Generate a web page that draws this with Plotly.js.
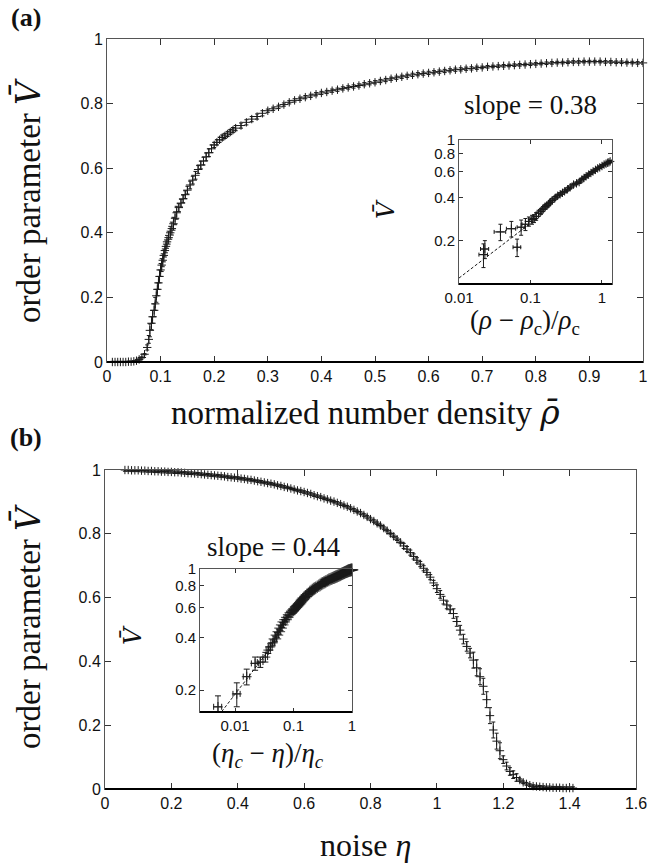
<!DOCTYPE html>
<html><head><meta charset="utf-8">
<script src="https://cdn.plot.ly/plotly-3.0.1.min.js"></script>
<style>html,body{margin:0;padding:0;background:#fff}#chart{width:649px;height:865px}</style>
</head><body><div id="chart"></div>
<script>
// ---- Panel (a): order parameter vs normalized density ----
const aX = [0.010,0.015,0.020,0.025,0.030,0.035,0.040,0.045,0.050,0.055,0.060,0.065,0.070,0.075,0.078,0.080,0.083,0.085,0.088,0.090,0.092,0.094,0.096,0.098,0.100,0.102,0.104,0.106,0.108,0.110,0.112,0.115,0.118,0.121,0.124,0.127,0.130,0.134,0.138,0.142,0.146,0.150,0.155,0.160,0.165,0.170,0.175,0.180,0.185,0.190,0.195,0.200,0.205,0.210,0.215,0.220,0.225,0.230,0.235,0.240,0.250,0.260,0.270,0.280,0.290,0.300,0.310,0.320,0.330,0.340,0.350,0.360,0.370,0.380,0.390,
0.40,0.41,0.42,0.43,0.44,0.45,0.46,0.47,0.48,0.49,0.50,0.51,0.52,0.53,0.54,0.55,0.56,0.57,0.58,0.59,0.60,0.61,0.62,0.63,0.64,0.65,0.66,0.67,0.68,0.69,0.70,0.71,0.72,0.73,0.74,0.75,0.76,0.77,0.78,0.79,0.80,0.81,0.82,0.83,0.84,0.85,0.86,0.87,0.88,0.89,0.90,0.91,0.92,0.93,0.94,0.95,0.96,0.97,0.98,0.99,1.00];
const aY = [0,0,0,0,0,0,0.001,0.001,0.002,0.004,0.008,0.014,0.024,0.045,0.070,0.098,0.120,0.140,0.160,0.180,0.205,0.225,0.245,0.265,0.285,0.300,0.315,0.330,0.345,0.358,0.372,0.385,0.400,0.413,0.428,0.445,0.462,0.478,0.492,0.505,0.518,0.532,0.548,0.563,0.578,0.596,0.610,0.622,0.635,0.648,0.660,0.672,0.680,0.688,0.695,0.700,0.706,0.712,0.718,0.724,0.732,0.742,0.752,0.760,0.770,0.778,0.784,0.790,0.797,0.804,0.810,0.815,0.820,0.824,0.829,
0.833,0.836,0.840,0.843,0.847,0.850,0.853,0.856,0.860,0.863,0.866,0.870,0.873,0.877,0.880,0.883,0.886,0.889,0.891,0.893,0.895,0.897,0.899,0.901,0.903,0.905,0.906,0.908,0.909,0.911,0.912,0.914,0.915,0.916,0.917,0.918,0.919,0.920,0.921,0.922,0.923,0.924,0.925,0.926,0.927,0.927,0.928,0.929,0.929,0.930,0.930,0.930,0.930,0.929,0.929,0.928,0.928,0.927,0.927,0.926,0.926];
const aErr = [0.002,0.002,0.002,0.002,0.002,0.002,0.002,0.002,0.002,0.002,0.002,0.002,0.002,0.008,0.012,
0.02,0.02,0.02,0.02,0.02,0.02,0.02,0.02,0.02,0.02,0.02,0.02,0.02,0.02,0.02,0.02,0.02,0.02,0.02,0.02,0.02,0.02,
0.012,0.012,0.012,0.012,0.012,0.012,0.012,0.012,0.012,0.012,0.012,0.012,0.012,0.012,
0.008,0.008,0.008,0.008,0.008,0.008,0.008,0.008,0.008,0.008,0.008,0.008,0.008,0.008,
0.005,0.005,0.005,0.005,0.005,0.005,0.005,0.005,0.005,0.005,
0.005,0.005,0.005,0.005,0.005,0.005,0.005,0.005,0.005,0.005,0.005,0.005,0.005,0.005,0.005,0.005,0.005,0.005,0.005,0.005,
0.005,0.005,0.005,0.005,0.005,0.005,0.005,0.005,0.005,0.005,0.004,0.004,0.004,0.004,0.004,0.004,0.004,0.004,0.004,0.004,
0.004,0.004,0.004,0.004,0.004,0.004,0.004,0.004,0.004,0.004,0.004,0.004,0.004,0.004,0.004,0.004,0.004,0.004,0.004,0.004,0.004];

// ---- Inset (a): log-log ----
const iaX = [0.022,0.023,0.038,0.054,0.065,0.074,0.085,0.095,0.105,0.112,0.12,0.13,0.14,0.15,0.16,0.17,0.18,0.19,0.2,0.22,0.24,0.26,0.28,0.3,0.33,0.36,0.4,0.44,0.48,0.52,0.56,0.6,0.65,0.7,0.75,0.81,0.87,0.93,1.0,1.07,1.14,1.2,1.25,1.3];
const iaY = [0.16,0.175,0.23,0.242,0.18,0.248,0.26,0.272,0.28,0.285,0.295,0.31,0.32,0.33,0.345,0.35,0.36,0.37,0.38,0.395,0.41,0.42,0.43,0.44,0.455,0.47,0.49,0.5,0.51,0.53,0.545,0.56,0.575,0.59,0.605,0.62,0.635,0.645,0.66,0.675,0.685,0.695,0.70,0.71];
const iaEy = [0.03,0.025,0.03,0.03,0.025,0.03,0.025,0.02,0.02,0.018,0.018,0.015,0.015,0.012,0.012,0.012,0.01,0.01,0.01,0.01,0.01,0.01,0.01,0.01,0.01,0.01,0.01,0.01,0.01,0.01,0.01,0.01,0.01,0.01,0.01,0.01,0.01,0.01,0.01,0.01,0.01,0.01,0.01,0.01];
const iaEx = [0.003,0.003,0.007,0.008,0.008,0.009,0.009,0.01,0.01,0.01,0.01,0.01,0.01,0.01,0.012,0.012,0.012,0.012,0.015,0.015,0.015,0.015,0.015,0.02,0.02,0.02,0.02,0.02,0.02,0.03,0.03,0.03,0.03,0.03,0.03,0.04,0.04,0.04,0.05,0.05,0.05,0.05,0.05,0.05];
const fitAx = [0.01, 0.15];
const fitAy = [0.11, 0.308];

// ---- Panel (b): order parameter vs noise ----
const bX = [0.06,0.07,0.08,0.09,0.10,0.11,0.12,0.13,0.14,0.15,0.16,0.17,0.18,0.19,0.20,0.21,0.22,0.23,0.24,0.25,0.26,0.27,0.28,0.29,0.30,0.31,0.32,0.33,0.34,0.35,0.36,0.37,0.38,0.39,0.40,0.41,0.42,0.43,0.44,0.45,0.46,0.47,0.48,0.49,0.50,0.51,0.52,0.53,0.54,0.55,0.56,0.57,0.58,0.59,0.60,0.61,0.62,0.63,0.64,0.65,0.66,0.67,0.68,0.69,0.70,0.71,0.72,0.73,0.74,0.75,0.76,0.77,0.78,0.79,0.80,0.81,0.82,0.83,0.84,0.85,0.86,0.87,0.88,0.89,
0.90,0.91,0.92,0.93,0.94,0.95,0.96,0.97,0.98,0.99,1.00,1.01,1.02,1.03,1.04,1.05,1.06,1.07,1.08,1.09,1.10,1.11,1.12,1.13,1.14,1.15,1.16,1.17,1.18,1.19,1.20,1.21,1.22,1.23,1.24,1.25,1.26,1.27,1.28,1.29,1.30,1.31,1.32,1.33,1.34,1.35,1.36,1.37,1.38,1.39,1.40,1.41];
const bY = [1.000,1.000,0.999,0.999,0.999,0.998,0.998,0.997,0.997,0.996,0.996,0.995,0.995,0.994,0.994,0.993,0.993,0.992,0.991,0.990,0.990,0.989,0.988,0.987,0.986,0.985,0.984,0.983,0.982,0.981,0.980,0.978,0.977,0.976,0.975,0.973,0.972,0.970,0.969,0.967,0.965,0.963,0.961,0.959,0.957,0.955,0.952,0.950,0.947,0.945,0.942,0.939,0.936,0.934,0.931,0.928,0.925,0.921,0.918,0.915,0.911,0.908,0.904,0.901,0.897,0.893,0.889,0.885,0.880,0.875,0.870,0.865,0.859,0.853,0.846,0.840,0.833,0.826,0.818,0.810,0.801,0.792,0.783,0.773,
0.762,0.752,0.741,0.729,0.717,0.705,0.692,0.679,0.664,0.646,0.628,0.610,0.592,0.577,0.562,0.550,0.525,0.498,0.470,0.447,0.426,0.404,0.380,0.352,0.322,0.280,0.230,0.185,0.150,0.120,0.092,0.072,0.055,0.045,0.036,0.028,0.021,0.016,0.012,0.009,0.008,0.007,0.006,0.005,0.005,0.004,0.004,0.004,0.003,0.003,0.003,0.003];
const bErr = [0.004,0.004,0.004,0.004,0.004,0.004,0.004,0.004,0.004,0.004,0.004,0.004,0.004,0.004,0.004,0.004,0.004,0.004,0.004,0.004,0.004,0.004,0.004,0.004,0.004,0.004,0.004,0.004,0.004,0.004,0.004,0.004,0.004,0.004,0.004,0.004,0.004,0.004,0.004,0.004,0.004,0.004,
0.004,0.004,0.004,0.004,0.004,0.004,0.004,0.004,0.004,0.004,0.004,0.004,0.004,0.004,0.004,0.004,0.004,0.004,0.004,0.004,0.004,0.004,0.004,0.004,0.004,0.004,0.004,0.004,0.004,0.004,0.004,0.004,0.004,0.004,0.004,0.004,0.004,0.004,0.004,0.004,0.004,0.004,
0.008,0.008,0.008,0.008,0.008,0.008,0.008,0.008,0.008,0.008,
0.012,0.012,0.012,0.012,0.012,
0.015,0.015,0.015,0.015,0.015,0.015,
0.025,0.025,0.025,0.025,0.025,0.025,0.025,0.025,0.025,
0.012,0.012,0.012,0.012,0.012,
0.004,0.004,0.004,0.004,0.004,0.004,0.004,0.004,0.004,0.004,0.004,0.004,0.004,0.004,0.004,0.004,0.004];

// ---- Inset (b): log-log ----
const ibX = [0.0051,0.0107,0.0158,0.022,0.027,0.033,0.037,0.040,0.044,0.048,0.052,0.056,0.06,0.064,0.068,0.073,0.078,0.084,0.09,0.095,0.1,0.105,0.11,0.115,0.12,0.125,0.13,0.135,0.14,0.145,0.15,0.16,0.17,0.18,0.19,0.2,0.21,0.22,0.23,0.24,0.255,0.27,0.285,0.3,0.315,0.33,0.345,0.36,0.38,0.4,0.42,0.44,0.46,0.48,0.5,0.52,0.54,0.56,0.58,0.6,0.62,0.64,0.66,0.68,0.7,0.72,0.74,0.76,0.78,0.8,0.82,0.84,0.86,0.88,0.9,0.92,0.94,0.96,0.98,1.0];
const ibY = [0.16,0.19,0.239,0.285,0.29,0.31,0.34,0.355,0.375,0.395,0.415,0.435,0.455,0.475,0.495,0.51,0.525,0.545,0.56,0.57,0.58,0.59,0.6,0.61,0.62,0.63,0.64,0.65,0.66,0.67,0.68,0.695,0.71,0.72,0.735,0.745,0.755,0.765,0.772,0.78,0.79,0.80,0.81,0.82,0.828,0.835,0.842,0.85,0.858,0.865,0.872,0.878,0.884,0.89,0.895,0.9,0.905,0.91,0.915,0.92,0.925,0.93,0.935,0.94,0.945,0.949,0.953,0.957,0.961,0.965,0.969,0.972,0.975,0.978,0.98,0.983,0.985,0.987,0.989,0.99];
const ibEy = [0.025,0.03,0.025,0.025,0.02,0.02,
0.015,0.015,0.015,0.015,0.015,0.015,0.015,0.015,0.015,0.015,0.015,0.015,0.015,0.015,
0.025,0.025,0.025,0.025,0.025,0.025,0.025,0.025,0.025,0.025,0.025,0.025,0.025,0.025,0.025,0.025,0.025,0.025,0.025,0.025,0.025,0.025,0.025,0.025,
0.035,0.035,0.035,0.035,0.035,0.035,0.035,0.035,0.035,0.035,0.035,0.035,0.035,0.035,0.035,0.035,0.035,0.035,0.035,0.035,0.035,0.035,0.035,0.035,0.035,0.035,0.035,0.035,0.035,0.035,0.035,0.035,0.035,0.035,0.035,0.035];
const ibEx = [0.0008,0.0015,0.002,0.003,0.003,0.003,
0.003,0.003,0.003,0.003,0.003,0.003,0.003,0.003,0.003,0.003,0.003,0.003,0.003,0.003,
0.006,0.006,0.006,0.006,0.006,0.006,0.006,0.006,0.006,0.006,0.006,
0.01,0.01,0.01,0.01,0.01,0.01,0.01,0.01,0.01,0.01,0.01,0.01,0.01,
0.02,0.02,0.02,0.02,0.02,0.02,0.02,0.02,0.02,0.02,0.02,0.02,0.02,0.02,0.02,0.02,
0.035,0.035,0.035,0.035,0.035,0.035,0.035,0.035,0.035,0.035,0.035,0.035,0.035,0.035,0.035,0.035,0.035,0.035,0.035,0.035];
const fitBx = [0.0059, 0.04];
const fitBy = [0.15, 0.348];

const mainTicksA = [0,0.1,0.2,0.3,0.4,0.5,0.6,0.7,0.8,0.9,1];
const logTicksX = [0.01, 0.1, 1];
const logTicksXText = ['0.01', '0.1', '1'];
const logTicksY = [0.2, 0.4, 0.6, 0.8, 1];
const logTicksYText = ['0.2', '0.4', '0.6', '0.8', '1'];

// ---- layout helpers ----
const W = 649, H = 865;
const px = v => v / W;
const py = v => 1 - v / H;
const INK = '#1a1a1a';
const sans = 'Liberation Sans, Arial, Helvetica, sans-serif';
const serif = 'Liberation Serif, Times New Roman, serif';
const bar = c => '<span style="font-family:\'DejaVu Serif\'">' + c + '</span>';

function ax(domain, anchor, extra, small) {
  return Object.assign({
    domain: domain, anchor: anchor,
    ticks: 'inside', ticklen: small ? 4 : 6, tickwidth: 1, tickcolor: '#333',
    showline: true, linecolor: '#555', linewidth: 1, mirror: 'ticks',
    showgrid: false, zeroline: false,
    tickfont: {family: sans, size: small ? 15 : 16, color: '#111'}
  }, extra);
}

const dA = {x: [px(107), px(643)], y: [py(362), py(39)]};
const dAi = {x: [px(459), px(612)], y: [py(284), py(140)]};
const dB = {x: [px(105), px(636)], y: [py(789), py(470)]};
const dBi = {x: [px(200), px(352)], y: [py(712), py(569)]};

function pts(x, y, ey, ex, xa, ya, size, cap, lw) {
  const t = {
    x: x, y: y, xaxis: xa, yaxis: ya, type: 'scatter', mode: 'markers',
    cliponaxis: false, showlegend: false, hoverinfo: 'skip',
    marker: {symbol: 'cross-thin', size: size, color: INK, line: {color: INK, width: lw || 1}},
    error_y: {type: 'data', array: ey, visible: true, color: INK, thickness: 1, width: cap || 2}
  };
  if (ex) t.error_x = {type: 'data', array: ex, visible: true, color: INK, thickness: 1, width: cap || 2};
  return t;
}

const ibSize = ibX.map(v => (v > 0.045 ? 9 : 7));

const data = [
  pts(aX, aY, aErr, null, 'x', 'y', 6),
  pts(iaX, iaY, iaEy, iaEx, 'x2', 'y2', 6),
  {x: fitAx, y: fitAy, xaxis: 'x2', yaxis: 'y2', type: 'scatter', mode: 'lines', showlegend: false, hoverinfo: 'skip',
   line: {color: INK, width: 1, dash: '3px,2px'}},
  pts(bX, bY, bErr, null, 'x3', 'y3', 6),
  pts(ibX, ibY, ibEy, ibEx, 'x4', 'y4', ibSize, 3, 1.3),
  {x: fitBx, y: fitBy, xaxis: 'x4', yaxis: 'y4', type: 'scatter', mode: 'lines', showlegend: false, hoverinfo: 'skip',
   line: {color: INK, width: 1, dash: '3px,2px'}}
];

function bottomLine(d) {
  return {type: 'line', xref: 'paper', yref: 'paper', x0: d.x[0], x1: d.x[1], y0: d.y[0], y1: d.y[0],
          line: {color: '#000', width: 2}};
}

function ann(text, x, y, size, opts) {
  return Object.assign({text: text, x: px(x), y: py(y), xref: 'paper', yref: 'paper',
    xanchor: 'center', yanchor: 'middle', showarrow: false,
    font: {family: serif, size: size, color: '#111'}}, opts || {});
}

const layout = {
  width: W, height: H,
  margin: {l: 0, r: 0, t: 0, b: 0},
  paper_bgcolor: '#fff', plot_bgcolor: 'rgba(0,0,0,0)',
  showlegend: false,
  xaxis: ax(dA.x, 'y', {range: [0, 1], tickvals: mainTicksA}),
  yaxis: ax(dA.y, 'x', {range: [0, 1], dtick: 0.2, tick0: 0}),
  xaxis2: ax(dAi.x, 'y2', {type: 'log', range: [-2, 0.14], tickvals: logTicksX, ticktext: logTicksXText}, true),
  yaxis2: ax(dAi.y, 'x2', {type: 'log', range: [-1.0, 0], tickvals: logTicksY, ticktext: logTicksYText}, true),
  xaxis3: ax(dB.x, 'y3', {range: [0, 1.6], dtick: 0.2, tick0: 0}),
  yaxis3: ax(dB.y, 'x3', {range: [0, 1], dtick: 0.2, tick0: 0}),
  xaxis4: ax(dBi.x, 'y4', {type: 'log', range: [-2.6, 0], tickvals: logTicksX, ticktext: logTicksXText}, true),
  yaxis4: ax(dBi.y, 'x4', {type: 'log', range: [-0.826, 0], tickvals: logTicksY, ticktext: logTicksYText}, true),
  shapes: [bottomLine(dA), bottomLine(dAi), bottomLine(dB), bottomLine(dBi)],
  annotations: [
    ann('<b>(a)</b>', 26, 17, 26),
    ann('<b>(b)</b>', 26, 437, 26),
    ann('order parameter <i>' + bar('V̄') + '</i>', 28, 201, 33, {textangle: -90}),
    ann('order parameter <i>' + bar('V̄') + '</i>', 28, 627, 33, {textangle: -90}),
    ann('normalized number density <i>' + bar('ρ̄') + '</i>', 365, 412, 33),
    ann('noise <i>η</i>', 365, 845, 32),
    ann('slope = 0.38', 530, 105, 27),
    ann('slope = 0.44', 273, 547, 27),
    ann('<i>' + bar('V̄') + '</i>', 386, 209, 24, {textangle: -90}),
    ann('<i>' + bar('V̄') + '</i>', 133, 635, 24, {textangle: -90}),
    ann('(<i>ρ</i> − <i>ρ</i><sub>c</sub>)/<i>ρ</i><sub>c</sub>', 525, 322, 27),
    ann('(<i>η<sub>c</sub></i> − <i>η</i>)/<i>η<sub>c</sub></i>', 268, 755, 27)
  ]
};

Plotly.newPlot('chart', data, layout, {displayModeBar: false, staticPlot: true});
</script>
</body></html>
